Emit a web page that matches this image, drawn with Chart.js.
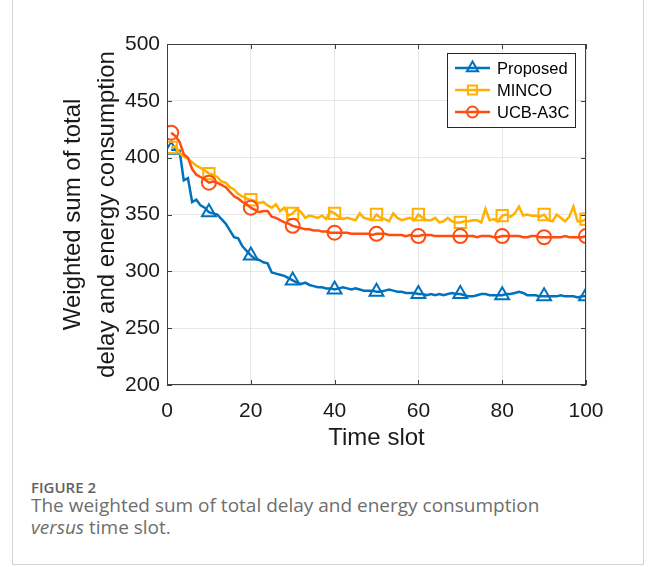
<!DOCTYPE html>
<html>
<head>
<meta charset="utf-8">
<script src="https://cdn.jsdelivr.net/npm/chart.js@4.4.1/dist/chart.umd.min.js"></script>
<style>
  html, body { margin: 0; padding: 0; background: #fff; }
  body { width: 656px; height: 567px; position: relative; overflow: hidden; }
  .frame {
    position: absolute; left: 12px; top: -2px; width: 632px; height: 567px;
    border: 1px solid #d4d4d4; box-sizing: border-box;
  }
  #chartWrap { position: absolute; left: 0; top: 0; width: 656px; height: 460px; }
  .caption { position: absolute; left: 31px; font-family: "Open Sans", "Noto Sans", sans-serif; color: #6e6e6e; }
  .fig-no { top: 477px; font-size: 15px; font-weight: 600; color: #626262; }
  .fig-text { top: 494px; font-size: 19px; line-height: 22px; width: 610px; }
</style>
</head>
<body>
<div class="frame"></div>
<div id="chartWrap"><canvas id="costChart" width="656" height="460"></canvas></div>
<div class="caption fig-no">FIGURE 2</div>
<div class="caption fig-text">The weighted sum of total delay and energy consumption<br><i>versus</i> time slot.</div>

<script>
// time slots 1..100
const timeSlots = Array.from({ length: 100 }, (_, i) => i + 1);

const proposed = [
  407, 407, 406, 380, 382, 361, 363, 358, 356, 352,
  351, 350, 346, 342, 336, 330, 329, 322, 318, 314,
  311, 310, 308, 307, 299, 298, 297, 296, 294, 292,
  290, 289, 290, 288, 287, 286, 286, 285, 285, 284,
  285, 286, 285, 284, 285, 284, 283, 283, 283, 282,
  282, 283, 284, 283, 282, 282, 281, 281, 281, 280,
  280, 279, 280, 279, 280, 279, 280, 281, 280, 280,
  279, 278, 278, 279, 280, 280, 279, 279, 279, 279,
  280, 280, 281, 282, 281, 279, 279, 279, 278, 278,
  278, 278, 278, 279, 278, 278, 278, 277, 278, 278
];

const minco = [
  409, 410, 404, 401, 399, 396, 393, 391, 389, 386,
  385, 383, 379, 378, 374, 372, 368, 366, 364, 363,
  362, 360, 361, 358, 356, 359, 353, 356, 349, 351,
  355, 352, 347, 349, 348, 347, 349, 346, 353, 351,
  348, 346, 347, 346, 345, 351, 347, 346, 345, 350,
  347, 346, 344, 351, 347, 345, 346, 347, 345, 350,
  347, 345, 345, 347, 343, 344, 347, 344, 343, 343,
  344, 344, 345, 345, 343, 355, 345, 346, 344, 349,
  350, 348, 351, 357, 349, 350, 349, 349, 348, 350,
  345, 344, 350, 347, 344, 348, 357, 344, 344, 346
];

const ucbA3c = [
  422, 419, 414, 403, 400, 390, 385, 383, 381, 378,
  379, 378, 376, 374, 370, 366, 364, 361, 359, 356,
  354, 352, 353, 353, 348, 347, 345, 343, 342, 340,
  339, 338, 337, 337, 336, 336, 335, 335, 334, 334,
  334, 334, 334, 333, 333, 333, 333, 333, 332, 333,
  333, 333, 332, 332, 332, 332, 331, 332, 331, 331,
  332, 332, 332, 331, 331, 331, 331, 331, 331, 331,
  331, 331, 331, 330, 331, 331, 331, 330, 330, 331,
  331, 331, 331, 331, 330, 330, 331, 331, 330, 330,
  330, 330, 330, 330, 331, 330, 330, 330, 330, 331
];

// markers sit on slots 1, 10, 20, ..., 100
const markerSlots = [1, 10, 20, 30, 40, 50, 60, 70, 80, 90, 100];

const xTicks = [0, 20, 40, 60, 80, 100];
const yTicks = [200, 250, 300, 350, 400, 450, 500];

const AXIS_COLOR = '#404040';
const FONT = '"Liberation Sans", Arial, sans-serif';

function toPoints(values) {
  return values.map((v, i) => ({ x: timeSlots[i], y: v }));
}

function markerRadius(r) {
  return ctx => markerSlots.includes(timeSlots[ctx.dataIndex]) ? r : 0;
}

const series = [
  { label: 'Proposed', values: proposed, color: '#0072BD', style: 'triangle', r: 8, order: 3 },
  { label: 'MINCO', values: minco, color: '#FFB000', style: 'rect', r: 8, order: 2 },
  { label: 'UCB-A3C', values: ucbA3c, color: '#FF4D10', style: 'circle', r: 7, order: 1 }
];

// axes box with inward ticks
const axesBox = {
  id: 'axesBox',
  afterDatasetsDraw(chart) {
    const { ctx, chartArea: a, scales } = chart;
    ctx.save();
    ctx.strokeStyle = AXIS_COLOR;
    ctx.lineWidth = 1;
    ctx.strokeRect(a.left + 0.5, a.top + 0.5, a.right - a.left - 1, a.bottom - a.top - 1);
    ctx.beginPath();
    yTicks.forEach(t => {
      const y = Math.round(scales.y.getPixelForValue(t)) + 0.5;
      ctx.moveTo(a.left, y); ctx.lineTo(a.left + 5, y);
      ctx.moveTo(a.right, y); ctx.lineTo(a.right - 5, y);
    });
    xTicks.forEach(t => {
      const x = Math.round(scales.x.getPixelForValue(t)) + 0.5;
      ctx.moveTo(x, a.bottom); ctx.lineTo(x, a.bottom - 5);
      ctx.moveTo(x, a.top); ctx.lineTo(x, a.top + 5);
    });
    ctx.stroke();
    ctx.restore();
  }
};

// boxed legend, line + hollow marker per series
const boxLegend = {
  id: 'boxLegend',
  afterDraw(chart) {
    const { ctx } = chart;
    const bx = 447, by = 53, bw = 128, bh = 74;
    ctx.save();
    ctx.fillStyle = '#fff';
    ctx.fillRect(bx, by, bw, bh);
    ctx.strokeStyle = '#262626';
    ctx.lineWidth = 1;
    ctx.strokeRect(bx + 0.5, by + 0.5, bw, bh);
    series.forEach((s, i) => {
      const y = by + 15 + i * 22;
      ctx.strokeStyle = s.color;
      ctx.lineWidth = 2.5;
      ctx.beginPath();
      ctx.moveTo(bx + 8, y);
      ctx.lineTo(bx + 43, y);
      ctx.stroke();
      ctx.lineWidth = 2;
      ctx.fillStyle = 'rgba(0,0,0,0)';
      Chart.helpers.drawPoint(ctx, { pointStyle: s.style, radius: s.r - 1.5, borderWidth: 2, rotation: 0 }, bx + 25.5, y);
      ctx.fillStyle = '#000';
      ctx.font = '16.5px ' + FONT;
      ctx.textBaseline = 'middle';
      ctx.textAlign = 'left';
      ctx.fillText(s.label, bx + 50, y + 1);
    });
    ctx.restore();
  }
};

const ctx = document.getElementById('costChart').getContext('2d');
new Chart(ctx, {
  type: 'line',
  data: {
    datasets: series.map(s => ({
      label: s.label,
      data: toPoints(s.values),
      borderColor: s.color,
      backgroundColor: 'rgba(0,0,0,0)',
      borderWidth: 2.5,
      pointStyle: s.style,
      pointRadius: markerRadius(s.r),
      pointBorderWidth: 2,
      pointBorderColor: s.color,
      pointBackgroundColor: 'rgba(0,0,0,0)',
      tension: 0,
      order: s.order
    }))
  },
  options: {
    responsive: false,
    animation: false,
    layout: { padding: { left: 50, top: 44, right: 70, bottom: 0 } },
    plugins: {
      legend: { display: false },
      tooltip: { enabled: false }
    },
    scales: {
      x: {
        type: 'linear',
        min: 0,
        max: 100,
        afterBuildTicks(scale) { scale.ticks = xTicks.map(v => ({ value: v })); },
        afterFit(scale) { scale.height = 75; },
        grid: { color: '#e6e6e6', drawTicks: false },
        border: { display: false },
        ticks: { color: '#1a1a1a', font: { family: FONT, size: 21 }, padding: 14, maxRotation: 0 },
        title: {
          display: true,
          text: 'Time slot',
          color: '#1a1a1a',
          font: { family: FONT, size: 24 },
          padding: { top: 0, bottom: 7 }
        }
      },
      y: {
        min: 200,
        max: 500,
        afterBuildTicks(scale) { scale.ticks = yTicks.map(v => ({ value: v })); },
        afterFit(scale) { scale.width = 117; },
        grid: { color: '#e6e6e6', drawTicks: false },
        border: { display: false },
        ticks: { color: '#1a1a1a', font: { family: FONT, size: 21 }, padding: 7 },
        title: {
          display: true,
          text: ['Weighted sum of total', 'delay and energy consumption'],
          color: '#1a1a1a',
          font: { family: FONT, size: 24, lineHeight: 1.42 },
          padding: { top: 6, bottom: 0 }
        }
      }
    }
  },
  plugins: [axesBox, boxLegend]
});
</script>
</body>
</html>
